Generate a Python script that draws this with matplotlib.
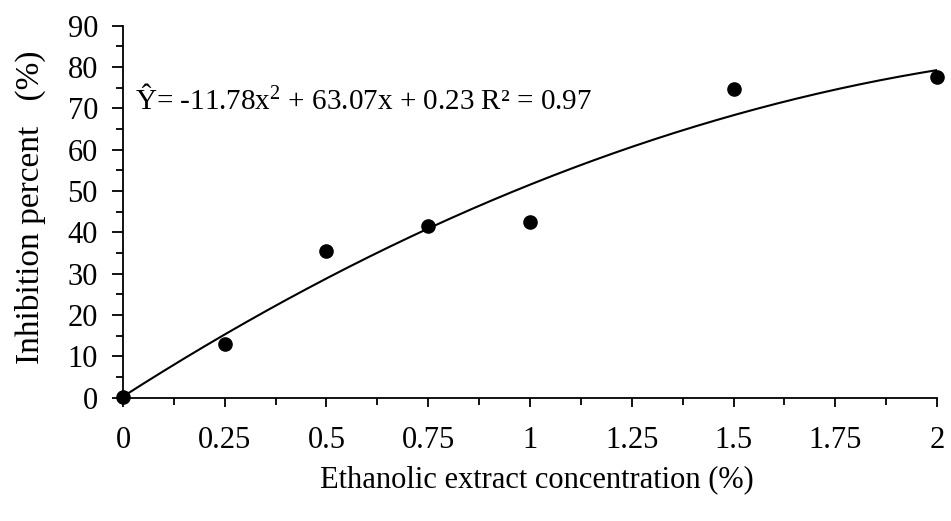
import numpy as np
import matplotlib
matplotlib.use('Agg')
import matplotlib.pyplot as plt
from matplotlib.ticker import MultipleLocator

plt.rcParams['font.family'] = ['Liberation Serif', 'DejaVu Serif']
plt.rcParams['mathtext.default'] = 'regular'

concentracio = [0, 0.25, 0.5, 0.75, 1.0, 1.5, 2.0]
inhibicio = [0.2, 13.0, 35.5, 41.5, 42.6, 74.6, 77.7]

# coeficients de la línia de tendència (de l'equació del gràfic)
a, b, c = -11.78, 63.07, 0.23
equacio = "Ŷ= -11.78x$^{2}$ + 63.07x + 0.23 R² = 0.97"

x_tick_labels = ['0', '0.25', '0.5', '0.75', '1', '1.25', '1.5', '1.75', '2']

fig = plt.figure(figsize=(9.51, 5.21), dpi=100)
ax = fig.add_axes([0.1293, 0.237, 0.856, 0.7137])

xs = np.linspace(0, 2, 200)
ax.plot(xs, a * xs**2 + b * xs + c, color='black', lw=1.5)
ax.plot(concentracio, inhibicio, 'o', color='black', markersize=9.5, clip_on=False, zorder=3)

ax.set_xlim(0, 2)
ax.set_ylim(0, 90)
ax.set_xticks(np.arange(0, 2.01, 0.25))
ax.set_xticklabels(x_tick_labels)
ax.xaxis.set_minor_locator(MultipleLocator(0.125))
ax.yaxis.set_major_locator(MultipleLocator(10))
ax.yaxis.set_minor_locator(MultipleLocator(5))

for s in ['top', 'right']:
    ax.spines[s].set_visible(False)
for s in ['left', 'bottom']:
    ax.spines[s].set_linewidth(1.3)

ax.tick_params(axis='x', which='major', direction='out', length=6.5, width=1.3, pad=14, labelsize=22)
ax.tick_params(axis='x', which='minor', direction='out', length=5, width=1.3)
ax.tick_params(axis='y', which='major', direction='out', length=8, width=1.3, pad=10, labelsize=22)
ax.tick_params(axis='y', which='minor', direction='out', length=5, width=1.3)

ax.text(0.03, 72, equacio, fontsize=21, ha='left', va='center')

fig.text(0.0315, 0.603, 'Inhibition percent   (%)', fontsize=24, rotation=90, ha='center', va='center')
fig.text(0.565, 0.079, 'Ethanolic extract concentration (%)', fontsize=22, ha='center', va='center')

fig.savefig('out.png', dpi=100)
